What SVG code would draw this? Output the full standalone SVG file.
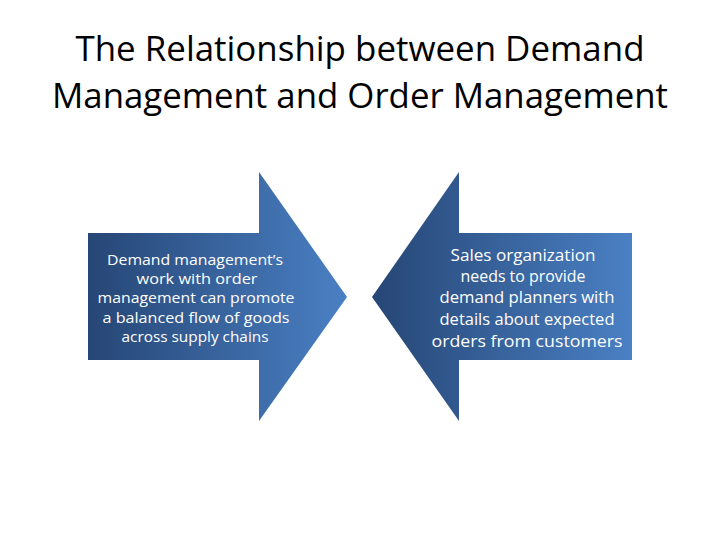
<svg xmlns="http://www.w3.org/2000/svg" width="720" height="540" viewBox="0 0 720 540">
  <style>
    .title { font-family: "Open Sans", "Liberation Sans", sans-serif; font-size: 34px; fill: #000000; text-anchor: middle; }
    .lbl { font-family: "Open Sans", "Liberation Sans", sans-serif; fill: #ffffff; text-anchor: middle; }
    .s1 { font-size: 14px; }
    .s2 { font-size: 16.5px; }
  </style>
  <defs>
    <linearGradient id="gL" gradientUnits="userSpaceOnUse" x1="88" y1="0" x2="347" y2="0">
      <stop offset="0" stop-color="#264675"/>
      <stop offset="1" stop-color="#4a80c4"/>
    </linearGradient>
    <linearGradient id="gR" gradientUnits="userSpaceOnUse" x1="372" y1="0" x2="632" y2="0">
      <stop offset="0" stop-color="#264675"/>
      <stop offset="1" stop-color="#4a80c4"/>
    </linearGradient>
  </defs>
  <rect width="720" height="540" fill="#ffffff"/>
  <g id="title">
    <text class="title" x="360" y="61" textLength="569" lengthAdjust="spacingAndGlyphs">The Relationship between Demand</text>
    <text class="title" x="360" y="108" textLength="616" lengthAdjust="spacingAndGlyphs">Management and Order Management</text>
  </g>
  <g id="node-demand">
    <polygon points="88,233 259,233 259,172 347,297 259,421 259,360 88,360" fill="url(#gL)"/>
    <text class="lbl s1" x="195" y="265" textLength="176" lengthAdjust="spacingAndGlyphs">Demand management’s</text>
    <text class="lbl s1" x="197" y="284" textLength="121" lengthAdjust="spacingAndGlyphs">work with order</text>
    <text class="lbl s1" x="196" y="303" textLength="197" lengthAdjust="spacingAndGlyphs">management can promote</text>
    <text class="lbl s1" x="196" y="323" textLength="187" lengthAdjust="spacingAndGlyphs">a balanced flow of goods</text>
    <text class="lbl s1" x="195" y="342" textLength="147" lengthAdjust="spacingAndGlyphs">across supply chains</text>
  </g>
  <g id="node-sales">
    <polygon points="632,233 459,233 459,172 372,297 459,421 459,360 632,360" fill="url(#gR)"/>
    <text class="lbl s2" x="523" y="261" textLength="145" lengthAdjust="spacingAndGlyphs">Sales organization</text>
    <text class="lbl s2" x="523" y="282" textLength="125" lengthAdjust="spacingAndGlyphs">needs to provide</text>
    <text class="lbl s2" x="527" y="303" textLength="175" lengthAdjust="spacingAndGlyphs">demand planners with</text>
    <text class="lbl s2" x="527" y="325" textLength="175" lengthAdjust="spacingAndGlyphs">details about expected</text>
    <text class="lbl s2" x="527" y="347" textLength="191" lengthAdjust="spacingAndGlyphs">orders from customers</text>
  </g>
  <g id="connectors"></g>
</svg>
